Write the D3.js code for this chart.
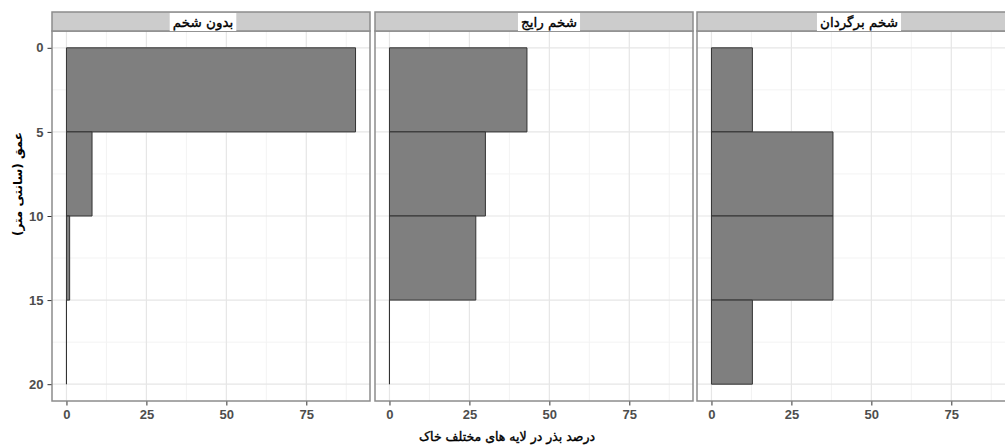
<!DOCTYPE html>
<html>
<head>
<meta charset="utf-8">
<script src="https://cdn.jsdelivr.net/npm/d3@7"></script>
<style>
body { margin: 0; background: #fff; }
svg { display: block; }
</style>
</head>
<body>
<div class="chart"></div>
<script>
// data
var tillage = ["بدون شخم", "شخم رایج", "شخم برگردان"]
var depthFrom = [0, 5, 10, 15]
var depthTo = [5, 10, 15, 20]
var noTill = [90.4, 8, 1, 0]
var conventional = [43, 30, 27, 0]
var moldboard = [12.8, 38, 38, 12.8]
var xTicks = [0, 25, 50, 75]
var yTicks = [0, 5, 10, 15, 20]
var xTitle = "درصد بذر در لایه های مختلف خاک"
var yTitle = "عمق (سانتی متر)"

var series = [noTill, conventional, moldboard]

var width = 1005
var height = 446
var panelLeft = [52, 375, 697]
var panelWidth = 318
var panelTop = 31
var panelBottom = 401
var stripTop = 12
var labelShift = [-8, 15, 3]
var persian = "'DejaVu Sans', sans-serif"
var latin = "'Liberation Sans', Arial, sans-serif"

var svg = d3.select(".chart").append("svg")
    .attr("width", width).attr("height", height)

var xMax = d3.max(series, function(s){ return d3.max(s) })
var y = d3.scaleLinear().domain([-1, 21]).range([panelTop, panelBottom])

tillage.forEach(function(name, p){
    var x0 = panelLeft[p]
    var x = d3.scaleLinear()
        .domain([-0.05 * xMax, xMax * 1.05])
        .range([x0, x0 + panelWidth])
    var g = svg.append("g")

    // grid
    var minorX = [12.5, 37.5, 62.5, 87.5]
    var minorY = [2.5, 7.5, 12.5, 17.5]
    g.selectAll(".mx").data(minorX).enter().append("line")
        .attr("x1", function(d){ return x(d) }).attr("x2", function(d){ return x(d) })
        .attr("y1", panelTop).attr("y2", panelBottom)
        .attr("stroke", "#f3f3f3").attr("stroke-width", 1)
    g.selectAll(".my").data(minorY).enter().append("line")
        .attr("y1", function(d){ return y(d) }).attr("y2", function(d){ return y(d) })
        .attr("x1", x0).attr("x2", x0 + panelWidth)
        .attr("stroke", "#f3f3f3").attr("stroke-width", 1)
    g.selectAll(".gx").data(xTicks).enter().append("line")
        .attr("x1", function(d){ return x(d) }).attr("x2", function(d){ return x(d) })
        .attr("y1", panelTop).attr("y2", panelBottom)
        .attr("stroke", "#e6e6e6").attr("stroke-width", 1.2)
    g.selectAll(".gy").data(yTicks).enter().append("line")
        .attr("y1", function(d){ return y(d) }).attr("y2", function(d){ return y(d) })
        .attr("x1", x0).attr("x2", x0 + panelWidth)
        .attr("stroke", "#e6e6e6").attr("stroke-width", 1.2)

    // bars (paths so that a zero bar still shows its outline)
    g.selectAll(".bar").data(series[p]).enter().append("path")
        .attr("d", function(d, i){
            var l = x(0), r = x(d), t = y(depthFrom[i]), b = y(depthTo[i])
            return "M" + l + "," + t + "H" + r + "V" + b + "H" + l + "Z"
        })
        .attr("fill", "#7f7f7f")
        .attr("stroke", "#333").attr("stroke-width", 1)

    // panel border
    g.append("rect")
        .attr("x", x0).attr("y", panelTop)
        .attr("width", panelWidth).attr("height", panelBottom - panelTop)
        .attr("fill", "none").attr("stroke", "#8c8c8c").attr("stroke-width", 1.5)

    // strip
    g.append("rect")
        .attr("x", x0).attr("y", stripTop)
        .attr("width", panelWidth).attr("height", panelTop - stripTop)
        .attr("fill", "#cccccc").attr("stroke", "#8c8c8c").attr("stroke-width", 1.5)
    var lab = g.append("text")
        .attr("x", x0 + panelWidth / 2 + labelShift[p]).attr("y", 27)
        .attr("text-anchor", "middle")
        .attr("font-family", persian).attr("font-size", "13.5px")
        .attr("fill", "#000").attr("stroke", "#000").attr("stroke-width", 0.35)
        .text(name)
    var bb = lab.node().getBBox()
    g.insert("rect", "text")
        .attr("x", bb.x - 3).attr("y", stripTop + 1)
        .attr("width", bb.width + 6).attr("height", panelTop - stripTop - 1)
        .attr("fill", "#fff")

    // x axis
    var xa = g.append("g").attr("transform", "translate(0," + (panelBottom + 0.5) + ")")
        .call(d3.axisBottom(x).tickValues(xTicks).tickSize(4).tickPadding(4))
    xa.select(".domain").remove()
    xa.selectAll("line").attr("stroke", "#333")
    xa.selectAll("text").attr("font-family", latin).attr("font-size", "13px")
        .attr("font-weight", "bold").attr("fill", "#4d4d4d")
})

// y axis
var ya = svg.append("g").attr("transform", "translate(" + (panelLeft[0] - 0.5) + ",0)")
    .call(d3.axisLeft(y).tickValues(yTicks).tickSize(4).tickPadding(4))
ya.select(".domain").remove()
ya.selectAll("line").attr("stroke", "#333")
ya.selectAll("text").attr("font-family", latin).attr("font-size", "13px")
    .attr("font-weight", "bold").attr("fill", "#4d4d4d")

// titles
svg.append("text")
    .attr("x", 507).attr("y", 441)
    .attr("text-anchor", "middle")
    .attr("font-family", persian).attr("font-size", "12.5px")
    .attr("fill", "#000").attr("stroke", "#000").attr("stroke-width", 0.4)
    .text(xTitle)

svg.append("text")
    .attr("transform", "translate(22,184) rotate(-90)")
    .attr("text-anchor", "middle")
    .attr("font-family", persian).attr("font-size", "12px").attr("font-weight", "bold")
    .attr("fill", "#000")
    .text(yTitle)
</script>
</body>
</html>
